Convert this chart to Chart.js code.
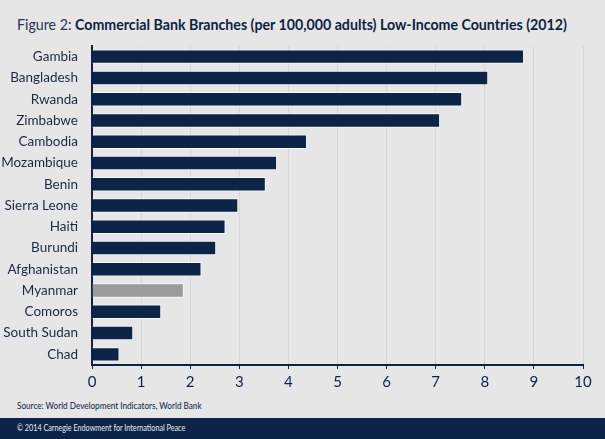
<!DOCTYPE html>
<html>
<head>
<meta charset="utf-8">
<script src="https://cdn.jsdelivr.net/npm/chart.js@4"></script>
<style>
  body { margin: 0; background: #e6e6e6; font-family: Lato, "Open Sans", sans-serif; }
  .page { position: relative; width: 605px; height: 439px; overflow: hidden; background: #e6e6e6; }
  .title { position: absolute; left: 17px; top: 15px; font-size: 15.5px; color: #0d2340; white-space: nowrap;
    transform: scaleX(0.915); transform-origin: left top; }
  .title span { color: #26354d; }
  .chart-box { position: absolute; left: 0; top: 0; width: 605px; height: 400px; }
  .source { position: absolute; left: 17px; top: 400px; font-size: 9.5px; color: #0d2340; white-space: nowrap;
    transform: scaleX(0.86); transform-origin: left top; }
  .footer { position: absolute; left: 0; top: 418px; width: 605px; height: 21px; background: #0b2447; }
  .footer span { position: absolute; left: 17px; top: 4px; font-size: 9.5px; color: #e8ecf2; white-space: nowrap;
    transform: scaleX(0.76); transform-origin: left top; }
</style>
</head>
<body>
<div class="page">
  <div class="title"><span>Figure 2:</span> <b>Commercial Bank Branches (per 100,000 adults) Low-Income Countries (2012)</b></div>
  <div class="chart-box"><canvas id="chart"></canvas></div>
  <div class="source">Source: World Development Indicators, World Bank</div>
  <div class="footer"><span>© 2014 Carnegie Endowment for International Peace</span></div>
</div>
<script>
const countries = ["Gambia", "Bangladesh", "Rwanda", "Zimbabwe", "Cambodia", "Mozambique", "Benin",
  "Sierra Leone", "Haiti", "Burundi", "Afghanistan", "Myanmar", "Comoros", "South Sudan", "Chad"];
const branches = [8.80, 8.07, 7.54, 7.09, 4.38, 3.77, 3.54, 2.98, 2.72, 2.53, 2.23, 1.87, 1.41, 0.84, 0.56];
const xTicks = [0, 1, 2, 3, 4, 5, 6, 7, 8, 9, 10];

const navy = "#0b2447";
const colors = countries.map(c => c == "Myanmar" ? "#9a9b9d" : navy);

const ctx = document.getElementById("chart").getContext("2d");
const myChart = new Chart(ctx, {
  type: "bar",
  data: {
    labels: countries,
    datasets: [{
      data: branches,
      backgroundColor: colors,
      borderColor: "rgba(255,255,255,0.85)",
      borderWidth: 1,
      borderSkipped: "start",
      barPercentage: 0.68,
      categoryPercentage: 1,
    }],
  },
  options: {
    indexAxis: "y",
    responsive: true,
    maintainAspectRatio: false,
    animation: false,
    layout: { padding: { top: 46, right: 22, bottom: 0, left: 0 } },
    plugins: { legend: { display: false }, tooltip: { enabled: false } },
    scales: {
      x: {
        min: 0,
        max: 10,
        afterBuildTicks: axis => { axis.ticks = xTicks.map(v => ({ value: v })); },
        afterFit: axis => { axis.height = 35; },
        grid: { color: "#d6d6d6", lineWidth: 1, drawTicks: true, tickLength: 4, tickColor: navy },
        border: { color: navy, width: 2 },
        ticks: { color: navy, font: { family: "Lato", size: 15 }, padding: 4 },
      },
      y: {
        afterFit: axis => { axis.width = 92; },
        grid: { display: false },
        border: { color: navy, width: 2 },
        ticks: { color: "#1a2a44", font: { family: "Lato", size: 13.5 }, padding: 6 },
      },
    },
  },
});
</script>
</body>
</html>
